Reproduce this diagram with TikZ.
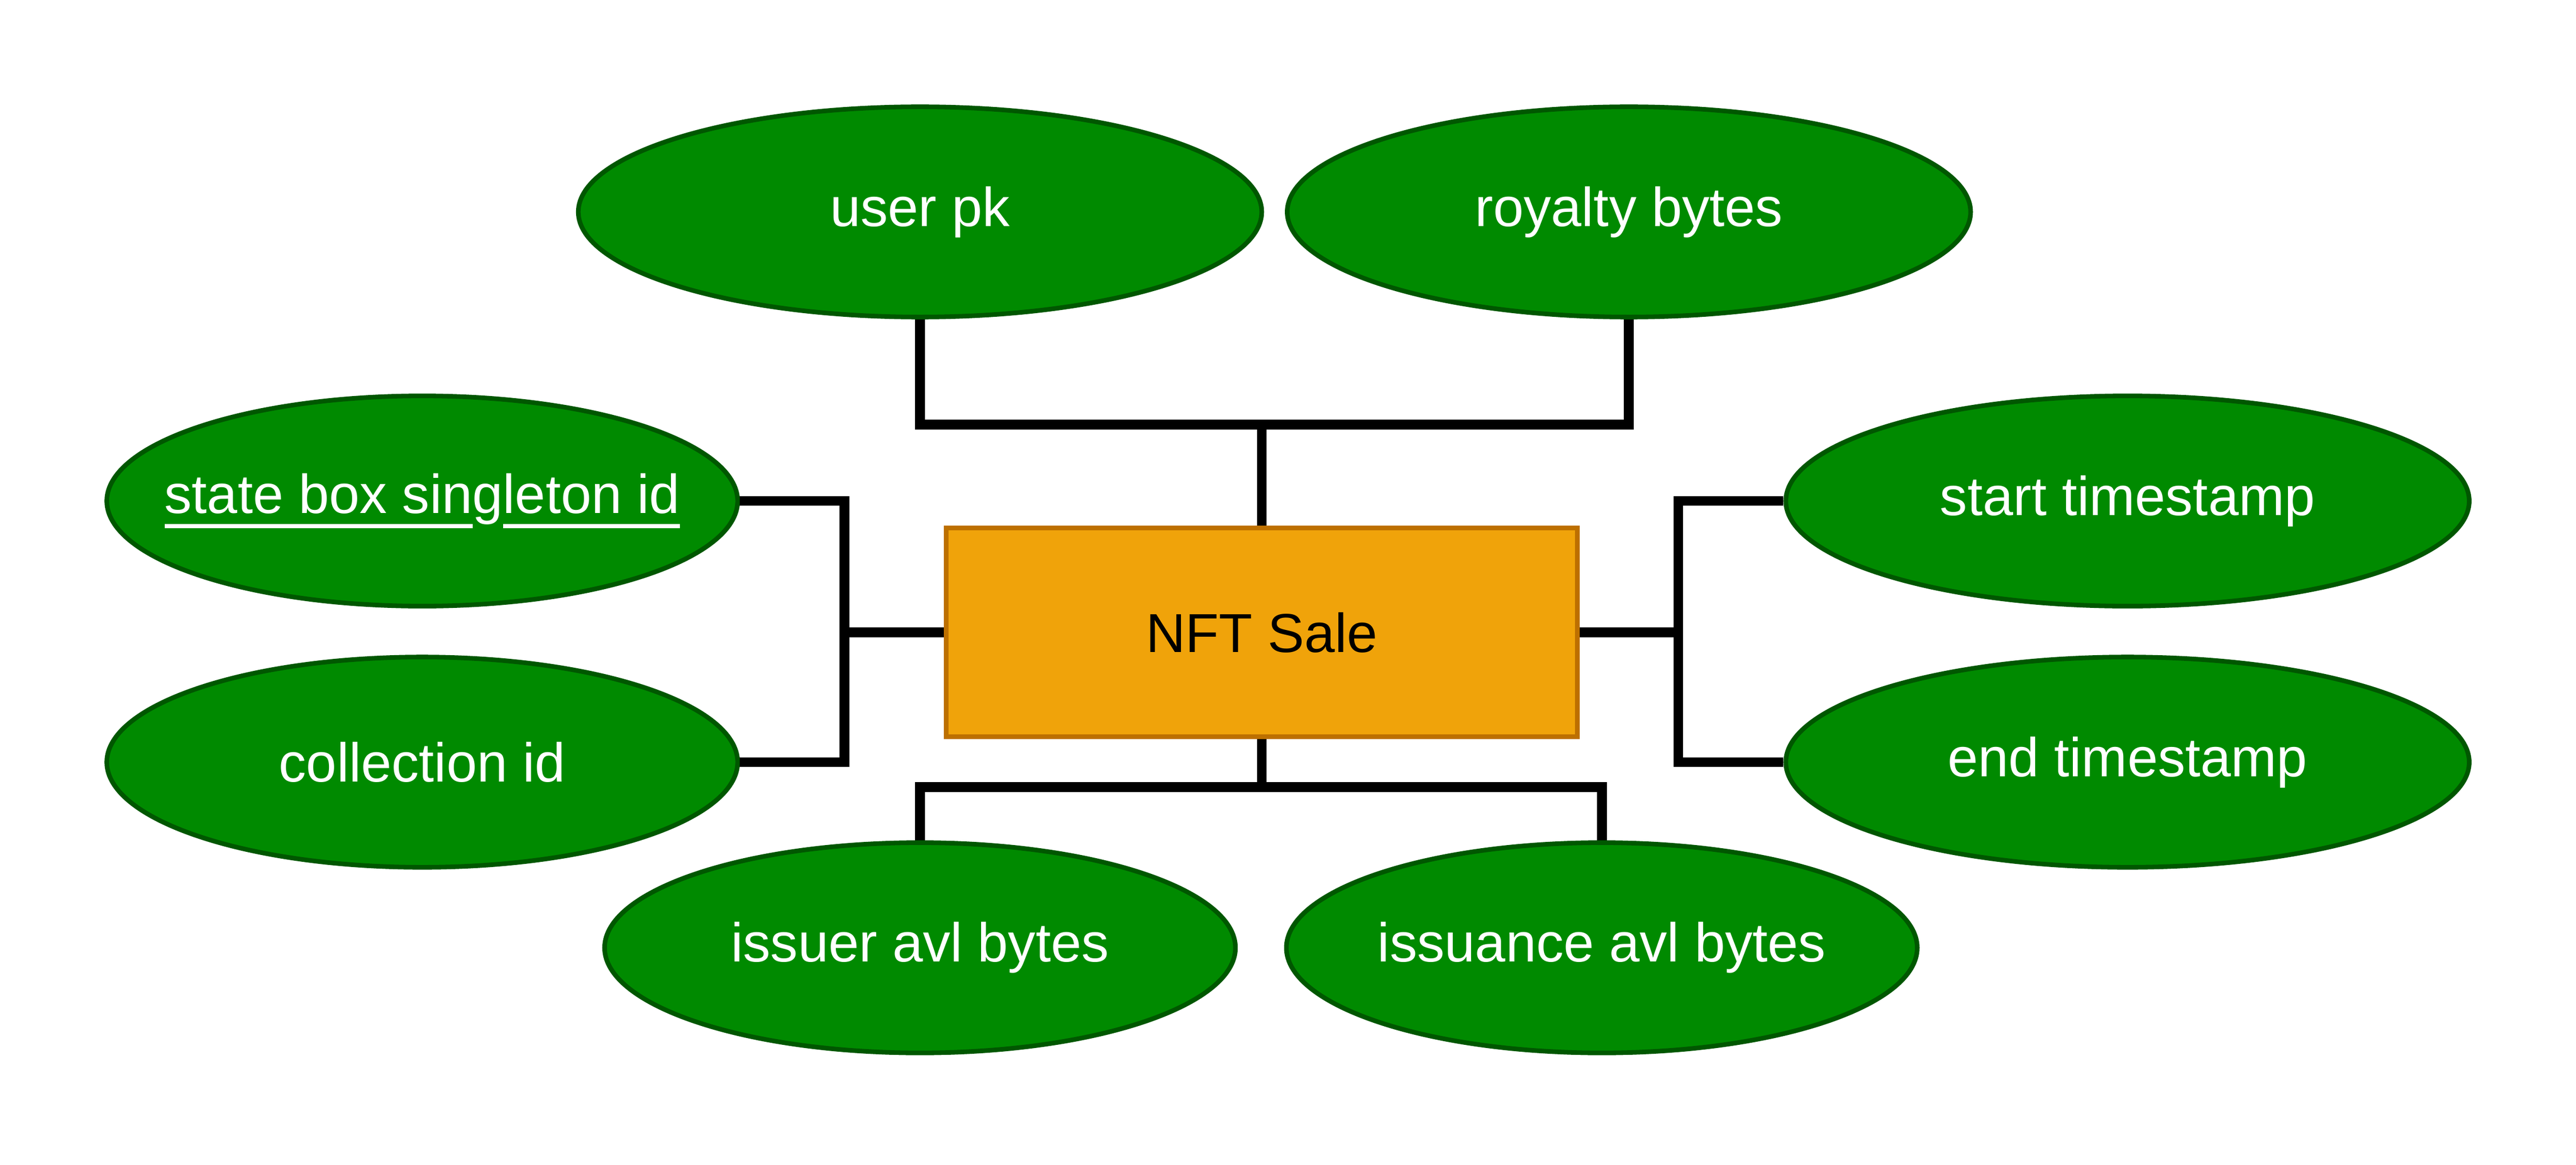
\documentclass[tikz,border=0pt]{standalone}
\usepackage{fontspec}
\setmainfont{Liberation Sans}
\usepackage{tikz}
\usepackage{xcolor}
\usetikzlibrary{shapes.geometric}
\definecolor{attrfill}{HTML}{008A00}
\definecolor{attrline}{HTML}{005700}
\definecolor{salefill}{HTML}{F0A30A}
\definecolor{saleline}{HTML}{BD7000}
\newcommand\keyline[1]{\setbox0\hbox{#1}\rlap{\rule[-2.6pt]{\wd0}{0.8pt}}\box0}

\begin{document}
\begin{tikzpicture}[
        attr/.style={ellipse,fill=attrfill,draw=attrline,line width=0.8pt,text=white,inner xsep=-1cm,inner ysep=0pt,minimum height=1.28cm},
        wide/.style={attr,minimum width=4.16cm},
        narrow/.style={attr,minimum width=3.84cm},
        entity/.style={rectangle,fill=salefill,draw=saleline,line width=0.8pt,minimum width=3.84cm,minimum height=1.27cm},
        link/.style={line width=1.7pt,line join=miter}]
        \useasboundingbox (0,0) rectangle (15.68,-7.09);
        \fontsize{9.5}{11}\selectfont
        \node[entity] (sale) at (7.68,-3.85) {NFT Sale};
        \node[wide] (userpk) at (5.60,-1.29) {user pk};
        \node[wide] (royalty) at (9.915,-1.29) {royalty bytes};
        \node[narrow] (statebox) at (2.57,-3.05) {\keyline{state box sin}g\keyline{leton id}};
        \node[narrow] (collection) at (2.57,-4.64) {collection id};
        \node[wide] (startts) at (12.95,-3.05) {start timestamp};
        \node[wide] (endts) at (12.95,-4.64) {end timestamp};
        \node[narrow] (issuer) at (5.60,-5.77) {issuer avl bytes};
        \node[narrow] (issuance) at (9.75,-5.77) {issuance avl bytes};
        \draw[link] (userpk.south) -- ++(0,-0.64) -| (sale.north);
        \draw[link] (royalty.south) -- ++(0,-0.64) -| (sale.north);
        \draw[link] (statebox.east) -- ++(0.635,0) |- (sale.west);
        \draw[link] (collection.east) -- ++(0.635,0) |- (sale.west);
        \draw[link] (startts.west) -- ++(-0.64,0) |- (sale.east);
        \draw[link] (endts.west) -- ++(-0.64,0) |- (sale.east);
        \draw[link] (issuer.north) -- ++(0,0.325) -| (sale.south);
        \draw[link] (issuance.north) -- ++(0,0.325) -| (sale.south);
    \end{tikzpicture}
\end{document}
